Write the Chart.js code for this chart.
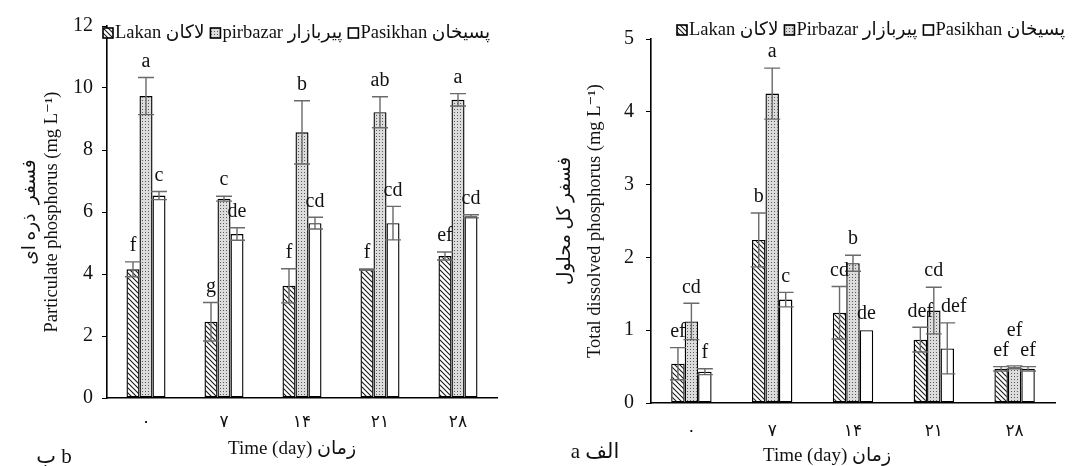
<!DOCTYPE html>
<html lang="en">
<head>
<meta charset="UTF-8">
<title>Phosphorus - Lakan / Pirbazar / Pasikhan</title>
<script src="https://cdn.jsdelivr.net/npm/chart.js"></script>
<style>
    body { margin: 0; background: #fff; }
    .panel { position: absolute; top: 0; height: 466px; }
    #left { left: 0; width: 545px; }
    #right { left: 545px; width: 544px; }
</style>
</head>
<body>
<div class="panel" id="left"><canvas id="ppChart"></canvas></div>
<div class="panel" id="right"><canvas id="tdpChart"></canvas></div>
<script>
// days (Persian digits)
const days = ['۰', '۷', '۱۴', '۲۱', '۲۸'];

// b) Particulate phosphorus (mg L-1)
const ppLakan = [4.15, 2.46, 3.62, 4.14, 4.58];
const ppLakanErr = [0.24, 0.62, 0.55, 0.02, 0.13];
const ppLakanLetters = ['f', 'g', 'f', 'f', 'ef'];
const ppPirbazar = [9.74, 6.43, 8.57, 9.22, 9.62];
const ppPirbazarErr = [0.6, 0.08, 1.02, 0.5, 0.2];
const ppPirbazarLetters = ['a', 'c', 'b', 'ab', 'a'];
const ppPasikhan = [6.53, 5.29, 5.64, 5.64, 5.86];
const ppPasikhanErr = [0.13, 0.2, 0.19, 0.54, 0.05];
const ppPasikhanLetters = ['c', 'de', 'cd', 'cd', 'cd'];

// a) Total dissolved phosphorus (mg L-1)
const tdpLakan = [0.54, 2.24, 1.24, 0.87, 0.47];
const tdpLakanErr = [0.22, 0.37, 0.36, 0.17, 0.03];
const tdpLakanLetters = ['ef', 'b', 'cd', 'def', 'ef'];
const tdpPirbazar = [1.12, 4.25, 1.92, 1.27, 0.49];
const tdpPirbazarErr = [0.25, 0.35, 0.11, 0.32, 0.02];
const tdpPirbazarLetters = ['cd', 'a', 'b', 'cd', 'ef'];
const tdpPasikhan = [0.43, 1.42, 1.0, 0.75, 0.47];
const tdpPasikhanErr = [0.04, 0.1, 0, 0.35, 0.03];
const tdpPasikhanLetters = ['f', 'c', 'de', 'def', 'ef'];

const FONT = "'Liberation Serif', 'DejaVu Sans', serif";

function hatchPattern() {
    const c = document.createElement('canvas');
    c.width = 5; c.height = 5;
    const g = c.getContext('2d');
    g.fillStyle = '#fff';
    g.fillRect(0, 0, 5, 5);
    g.strokeStyle = '#1a1a1a';
    g.lineWidth = 1.1;
    g.beginPath();
    g.moveTo(-1, -1); g.lineTo(6, 6);
    g.moveTo(-1, 4); g.lineTo(1, 6);
    g.moveTo(4, -1); g.lineTo(6, 1);
    g.stroke();
    return g.createPattern(c, 'repeat');
}

function dotPattern() {
    const c = document.createElement('canvas');
    c.width = 3; c.height = 3;
    const g = c.getContext('2d');
    g.fillStyle = '#dcdcdc';
    g.fillRect(0, 0, 3, 3);
    g.fillStyle = '#5a5a5a';
    g.fillRect(1, 1, 1, 1);
    return g.createPattern(c, 'repeat');
}

const fills = [hatchPattern(), dotPattern(), '#ffffff'];

// error bars, letters, legend, bottom texts
const annotate = {
    id: 'annotate',
    afterDatasetsDraw(chart, args, opts) {
        const ctx = chart.ctx;
        const y = chart.scales.y;
        ctx.save();
        ctx.strokeStyle = '#6a6a6a';
        ctx.lineWidth = 1.4;
        chart.data.datasets.forEach((ds, d) => {
            chart.getDatasetMeta(d).data.forEach((bar, i) => {
                const e = ds.errors[i];
                if (!e) return;
                const top = y.getPixelForValue(ds.data[i] + e);
                const bot = y.getPixelForValue(ds.data[i] - e);
                ctx.beginPath();
                ctx.moveTo(bar.x, top); ctx.lineTo(bar.x, bot);
                ctx.moveTo(bar.x - 8, top); ctx.lineTo(bar.x + 8, top);
                ctx.moveTo(bar.x - 8, bot); ctx.lineTo(bar.x + 8, bot);
                ctx.stroke();
            });
        });

        // significance letters, nudged when they would collide
        ctx.font = '20px ' + FONT;
        ctx.fillStyle = '#111';
        ctx.textAlign = 'center';
        ctx.textBaseline = 'middle';
        const placed = [];
        chart.data.labels.forEach((lab, i) => {
            chart.data.datasets.forEach((ds, d) => {
                const bar = chart.getDatasetMeta(d).data[i];
                const txt = ds.letters[i];
                const w = ctx.measureText(txt).width;
                let x = bar.x;
                let cy = y.getPixelForValue(ds.data[i] + ds.errors[i]) - 16;
                let moved = true;
                while (moved) {
                    moved = false;
                    placed.forEach(p => {
                        if (Math.abs(p.x - x) < (p.w + w) / 2 + 4 && Math.abs(p.y - cy) < 19) {
                            if (d - p.d >= 2) x = p.x + (p.w + w) / 2 + 8;
                            else cy = p.y - 20;
                            moved = true;
                        }
                    });
                }
                placed.push({ x: x, y: cy, w: w, d: d });
                ctx.fillText(txt, x, cy);
            });
        });
        ctx.restore();
    },
    afterDraw(chart, args, opts) {
        const ctx = chart.ctx;
        ctx.save();
        ctx.direction = 'ltr';
        ctx.textBaseline = 'middle';
        ctx.fillStyle = '#111';

        // legend
        ctx.font = '18.5px ' + FONT;
        let lx = opts.legend.x;
        const ly = opts.legend.y;
        chart.data.datasets.forEach(ds => {
            ctx.fillStyle = ds.backgroundColor;
            ctx.fillRect(lx, ly - 5, 10, 10);
            ctx.strokeStyle = '#000';
            ctx.lineWidth = 1.6;
            ctx.strokeRect(lx, ly - 5, 10, 10);
            ctx.fillStyle = '#111';
            ctx.textAlign = 'left';
            ctx.fillText(ds.label, lx + 12, ly);
            lx += 12 + ctx.measureText(ds.label).width + 6;
        });

        // x axis title and panel label
        ctx.font = '19px ' + FONT;
        ctx.textAlign = 'center';
        ctx.fillText(opts.xTitle.text, opts.xTitle.x, opts.xTitle.y);
        ctx.font = '21px ' + FONT;
        ctx.fillText(opts.panel.text, opts.panel.x, opts.panel.y);
        ctx.restore();
    }
};

function makeChart(id, cfg) {
    const names = cfg.names;
    const datasets = cfg.values.map((vals, k) => ({
        label: names[k],
        data: vals,
        errors: cfg.errors[k],
        letters: cfg.letters[k],
        backgroundColor: fills[k],
        borderColor: '#000',
        borderWidth: 1.4,
        borderSkipped: false,
        categoryPercentage: 0.5,
        barPercentage: 1.0
    }));

    return new Chart(document.getElementById(id), {
        type: 'bar',
        data: { labels: days, datasets: datasets },
        plugins: [annotate],
        options: {
            responsive: true,
            maintainAspectRatio: false,
            animation: false,
            layout: { padding: cfg.padding },
            scales: {
                x: {
                    grid: { display: false, drawTicks: false },
                    border: { display: true, color: '#000', width: 1.6 },
                    ticks: {
                        color: '#111',
                        padding: cfg.xTickPad,
                        font: { family: FONT, size: 17 }
                    },
                    afterFit: s => { s.height = cfg.xHeight; }
                },
                y: {
                    min: 0,
                    max: cfg.yMax,
                    grid: { drawOnChartArea: false, drawTicks: true, tickLength: 5, color: '#000' },
                    border: { display: true, color: '#000', width: 1.6 },
                    ticks: {
                        stepSize: cfg.yStep,
                        color: '#111',
                        padding: cfg.yTickPad,
                        font: { family: FONT, size: 20 }
                    },
                    title: {
                        display: true,
                        text: cfg.yTitle,
                        color: '#111',
                        padding: { top: cfg.yTitlePad, bottom: 0 },
                        font: { family: FONT, size: 18.5, lineHeight: cfg.yTitleLine + 'px' }
                    },
                    afterFit: s => { s.width = cfg.yWidth; }
                }
            },
            plugins: {
                legend: { display: false },
                tooltip: { enabled: false },
                annotate: {
                    legend: cfg.legend,
                    xTitle: cfg.xTitle,
                    panel: cfg.panel
                }
            }
        }
    });
}

makeChart('ppChart', {
    names: ['Lakan لاکان', 'pirbazar پیربازار', 'Pasikhan پسیخان'],
    values: [ppLakan, ppPirbazar, ppPasikhan],
    errors: [ppLakanErr, ppPirbazarErr, ppPasikhanErr],
    letters: [ppLakanLetters, ppPirbazarLetters, ppPasikhanLetters],
    yMax: 12, yStep: 2,
    yTitle: ['فسفر  ذره ای', 'Particulate phosphorus (mg L⁻¹)'],
    yTitlePad: 19, yTitleLine: 22,
    padding: { left: 0, right: 48, top: 26, bottom: 0 },
    yWidth: 107, xHeight: 68,
    xTickPad: 14, yTickPad: 9,
    legend: { x: 103, y: 33 },
    xTitle: { text: 'Time (day) زمان', x: 292, y: 449 },
    panel: { text: 'ب b', x: 54, y: 457 }
});

makeChart('tdpChart', {
    names: ['Lakan لاکان', 'Pirbazar پیربازار', 'Pasikhan پسیخان'],
    values: [tdpLakan, tdpPirbazar, tdpPasikhan],
    errors: [tdpLakanErr, tdpPirbazarErr, tdpPasikhanErr],
    letters: [tdpLakanLetters, tdpPirbazarLetters, tdpPasikhanLetters],
    yMax: 5, yStep: 1,
    yTitle: ['فسفر کل محلول', 'Total dissolved phosphorus (mg L⁻¹)'],
    yTitlePad: 5, yTitleLine: 30,
    padding: { left: 0, right: 34, top: 39, bottom: 0 },
    yWidth: 106, xHeight: 63,
    xTickPad: 18, yTickPad: 12,
    legend: { x: 132, y: 30 },
    xTitle: { text: 'Time (day) زمان', x: 282, y: 456 },
    panel: { text: 'a الف', x: 50, y: 452 }
});
</script>
</body>
</html>
